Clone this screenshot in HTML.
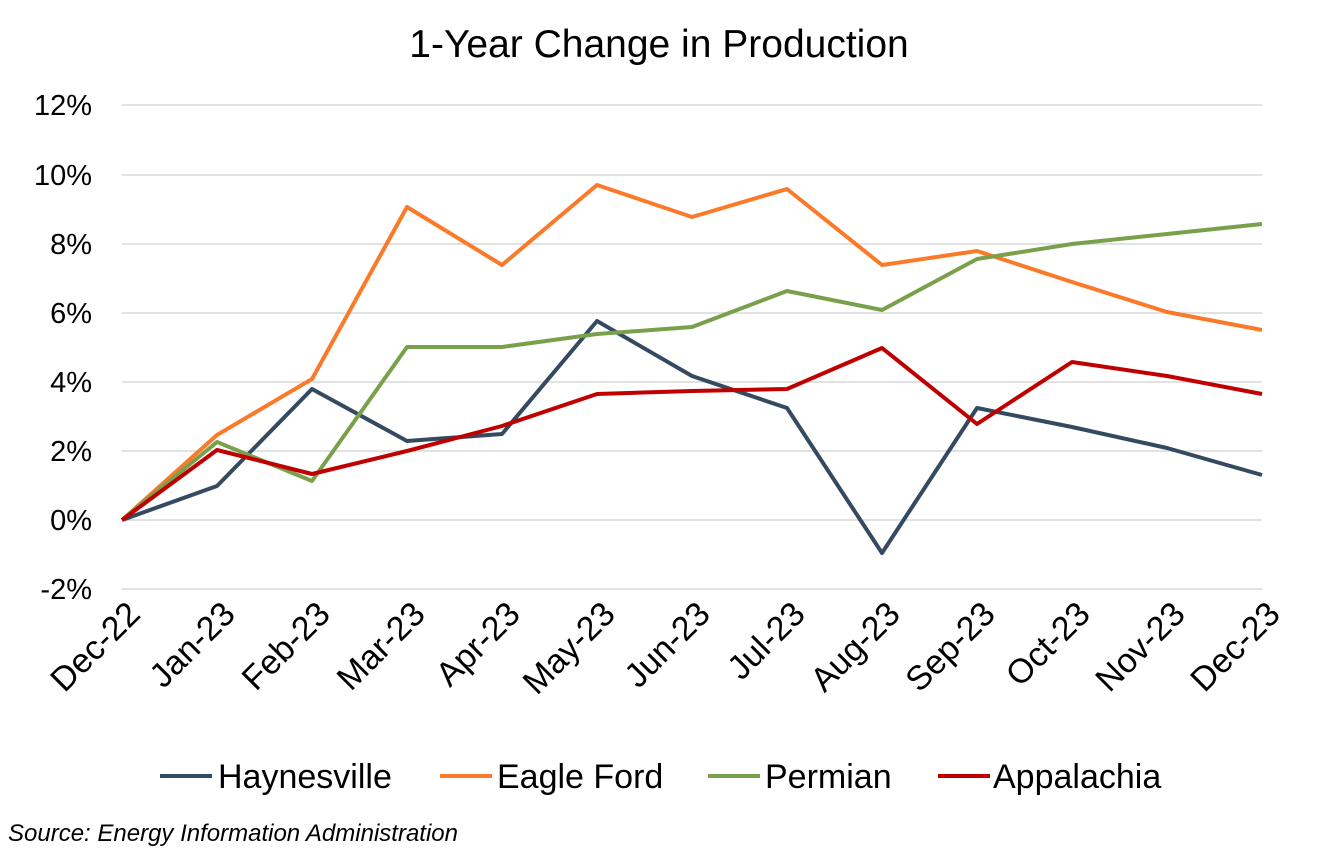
<!DOCTYPE html>
<html><head><meta charset="utf-8"><style>
body{margin:0;background:#fff;}
text{font-family:"Liberation Sans",Arial,sans-serif;fill:#000;}
</style></head><body>
<svg width="1318" height="849" viewBox="0 0 1318 849" xmlns="http://www.w3.org/2000/svg">
<text x="659" y="57" font-size="39" text-anchor="middle">1-Year Change in Production</text>
<g stroke="#d9d9d9" stroke-width="1.5">
<line x1="122" x2="1262" y1="105" y2="105"/><line x1="122" x2="1262" y1="175" y2="175"/>
<line x1="122" x2="1262" y1="244" y2="244"/><line x1="122" x2="1262" y1="313" y2="313"/>
<line x1="122" x2="1262" y1="382" y2="382"/><line x1="122" x2="1262" y1="451" y2="451"/>
<line x1="122" x2="1262" y1="520" y2="520"/><line x1="122" x2="1262" y1="589" y2="589"/>
</g>
<g font-size="29" text-anchor="end">
<text x="92" y="115">12%</text><text x="92" y="185">10%</text><text x="92" y="254">8%</text>
<text x="92" y="323">6%</text><text x="92" y="392">4%</text><text x="92" y="461">2%</text>
<text x="92" y="530">0%</text><text x="92" y="599">-2%</text>
</g>
<g font-size="34" text-anchor="end">
<text transform="translate(142,616) rotate(-45)">Dec-22</text>
<text transform="translate(237,616) rotate(-45)">Jan-23</text>
<text transform="translate(332,616) rotate(-45)">Feb-23</text>
<text transform="translate(427,616) rotate(-45)">Mar-23</text>
<text transform="translate(522,616) rotate(-45)">Apr-23</text>
<text transform="translate(617,616) rotate(-45)">May-23</text>
<text transform="translate(712,616) rotate(-45)">Jun-23</text>
<text transform="translate(807,616) rotate(-45)">Jul-23</text>
<text transform="translate(902,616) rotate(-45)">Aug-23</text>
<text transform="translate(997,616) rotate(-45)">Sep-23</text>
<text transform="translate(1092,616) rotate(-45)">Oct-23</text>
<text transform="translate(1187,616) rotate(-45)">Nov-23</text>
<text transform="translate(1282,616) rotate(-45)">Dec-23</text>
</g>
<g fill="none" stroke-width="4" stroke-linejoin="round">
<polyline stroke="#344a60" points="122,520 217,486 312,389 407,441 502,434 597,321 692,376 787,408 882,553 977,408 1072,427 1167,448 1262,475"/>
<polyline stroke="#fb7a2a" points="122,520 217,435 312,379 407,207 502,265 597,185 692,217 787,189 882,265 977,251 1072,282 1167,312 1262,330"/>
<polyline stroke="#79a04a" points="122,520 217,442 312,481 407,347 502,347 597,334 692,327 787,291 882,310 977,259 1072,244 1167,234 1262,224"/>
<polyline stroke="#c00000" points="122,520 217,450 312,474 407,451 502,426 597,394 692,391 787,389 882,348 977,424 1072,362 1167,376 1262,394"/>
</g>
<g stroke-width="4">
<line x1="160" x2="212" y1="776" y2="776" stroke="#344a60"/>
<line x1="440" x2="492" y1="776" y2="776" stroke="#fb7a2a"/>
<line x1="708" x2="760" y1="776" y2="776" stroke="#79a04a"/>
<line x1="938" x2="990" y1="776" y2="776" stroke="#c00000"/>
</g>
<g font-size="34">
<text x="218" y="788">Haynesville</text>
<text x="497" y="788">Eagle Ford</text>
<text x="765" y="788">Permian</text>
<text x="993" y="788">Appalachia</text>
</g>
<text x="8" y="841" font-size="24" font-style="italic">Source: Energy Information Administration</text>
</svg>
</body></html>
